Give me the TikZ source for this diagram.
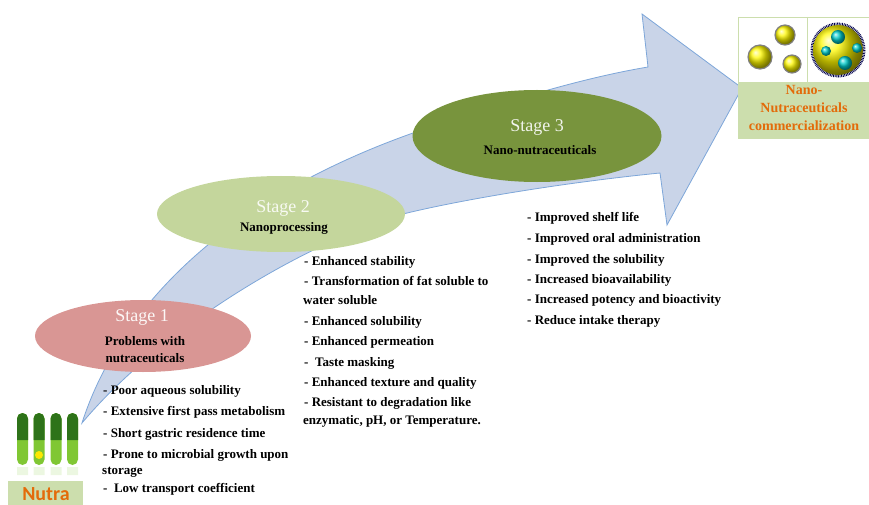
\documentclass[tikz,border=0pt]{standalone}
\usepackage{fontspec}
\setmainfont{Liberation Serif}
\newfontfamily\nutrafont{Carlito}
\usetikzlibrary{shapes.geometric}

\definecolor{cdddhh}{rgb}{0.79,0.83,0.91}
\definecolor{uuzzdd}{rgb}{0.49,0.65,0.85}
\definecolor{ddzzzz}{rgb}{0.85,0.59,0.58}
\definecolor{ccddzz}{rgb}{0.77,0.84,0.61}
\definecolor{uuzztt}{rgb}{0.47,0.58,0.24}
\definecolor{eeuuqq}{rgb}{0.89,0.42,0.04}
\definecolor{ddeecc}{rgb}{0.80,0.87,0.68}
\definecolor{ttuuqq}{rgb}{0.18,0.45,0.10}
\definecolor{zzccqq}{rgb}{0.50,0.78,0.20}

\tikzset{
  stage/.style={ellipse,draw=none,inner sep=0pt},
  stagetitle/.style={inner sep=0pt,font=\fontsize{18}{18}\selectfont},
  stagesub/.style={inner sep=0pt,align=center,font=\bfseries\fontsize{13}{17}\selectfont},
  item/.style={anchor=west,inner sep=0pt,text height=9pt,text depth=3pt,font=\bfseries\fontsize{13}{15}\selectfont}
}

\begin{document}
\begin{tikzpicture}[x=1pt,y=-1pt]
    \useasboundingbox (0,0) rectangle (869,505);
    % the bent arrow behind the stages
    \draw [line width=0.8pt,color=uuzzdd,fill=cdddhh] (82,423) .. controls (115,320) and (210,205) .. (413,133)
        .. controls (480,110) and (570,80) .. (648,67) -- (642,14) -- (742,88) -- (667,225) -- (660,173)
        .. controls (560,183) and (460,200) .. (403,214) .. controls (300,245) and (160,330) .. (82,423) -- cycle;
    % stages
    \node [stage,fill=ddzzzz,minimum width=216pt,minimum height=72pt] (st1) at (143,336) {};
    \node [stage,fill=ccddzz,minimum width=248pt,minimum height=76pt] (st2) at (281,214) {};
    \node [stage,fill=uuzztt,minimum width=249pt,minimum height=92pt] (st3) at (537,136) {};
    \node [stagetitle,text=white!92!ddzzzz] (st1t) at (142,317) {Stage 1};
    \node [stagesub] (st1s) at (145,350) {Problems with\\nutraceuticals};
    \node [stagetitle,text=white!88!ccddzz] (st2t) at (283,208) {Stage 2};
    \node [stagesub] (st2s) at (284,228) {Nanoprocessing};
    \node [stagetitle,text=white!90!uuzztt] (st3t) at (537,127) {Stage 3};
    \node [stagesub] (st3s) at (540,150) {Nano-nutraceuticals};
    % stage 1 list
    \node [item] (p1) at (103,391) {- Poor aqueous solubility};
    \node [item] (p2) at (103,412) {- Extensive first pass metabolism};
    \node [item] (p3) at (103,434) {- Short gastric residence time};
    \node [item] (p4) at (103,455) {- Prone to microbial growth upon};
    \node [item] (p4b) at (102,471) {storage};
    \node [item] (p5) at (103,489) {-\ \ Low transport coefficient};
    % stage 2 list
    \node [item] (n1) at (304,262) {- Enhanced stability};
    \node [item] (n2) at (304,282) {- Transformation of fat soluble to};
    \node [item] (n2b) at (303,301) {water soluble};
    \node [item] (n3) at (304,322) {- Enhanced solubility};
    \node [item] (n4) at (304,342) {- Enhanced permeation};
    \node [item] (n5) at (304,363) {-\ \ Taste masking};
    \node [item] (n6) at (304,383) {- Enhanced texture and quality};
    \node [item] (n7) at (304,403) {- Resistant to degradation like};
    \node [item] (n7b) at (303,421) {enzymatic, pH, or Temperature.};
    % stage 3 list
    \node [item] (b1) at (527,218) {- Improved shelf life};
    \node [item] (b2) at (527,239) {- Improved oral administration};
    \node [item] (b3) at (527,260) {- Improved the solubility};
    \node [item] (b4) at (527,280) {- Increased bioavailability};
    \node [item] (b5) at (527,300) {- Increased potency and bioactivity};
    \node [item] (b6) at (527,321) {- Reduce intake therapy};
    % product box
    \fill [ddeecc] (738,82) rectangle (869,138);
    \draw [line width=0.8pt,color=ddeecc] (738,17) rectangle (869,138);
    \draw [line width=0.8pt,color=ddeecc] (738,82) -- (869,82);
    \draw [line width=0.8pt,color=ddeecc] (807,17) -- (807,82);
    \shade [ball color=yellow!95!orange] (785,35) circle (10);
    \draw [line width=1.2pt,color=gray] (785,35) circle (10);
    \shade [ball color=yellow!95!orange] (760,57) circle (12);
    \draw [line width=1.2pt,color=gray] (760,57) circle (12);
    \shade [ball color=yellow!95!orange] (792,64) circle (9);
    \draw [line width=1.2pt,color=gray] (792,64) circle (9);
    \draw [line width=3pt,color=blue!30!black,dash pattern=on 0.8pt off 0.8pt] (838,50) circle (26);
    \shade [ball color=yellow!95!orange] (838,50) circle (25);
    \shade [ball color=cyan!60!teal] (838,37) circle (7);
    \shade [ball color=cyan!60!teal] (826,51) circle (5);
    \shade [ball color=cyan!60!teal] (857,48) circle (5);
    \shade [ball color=cyan!60!teal] (845,63) circle (7);
    \node [inner sep=0pt,align=center,text=eeuuqq,font=\bfseries\fontsize{14}{18}\selectfont] (com) at (804,108) {Nano-\\Nutraceuticals\\commercialization};
    % capsules
    \fill [zzccqq] (17,418.5) arc[start angle=180,end angle=360,radius=5.5] -- (28,459.5) arc[start angle=0,end angle=180,radius=5.5] -- cycle;
    \fill [ttuuqq] (17,440) -- (17,418.5) arc[start angle=180,end angle=360,radius=5.5] -- (28,440) -- cycle;
    \fill [zzccqq] (33.5,418.5) arc[start angle=180,end angle=360,radius=5.5] -- (44.5,459.5) arc[start angle=0,end angle=180,radius=5.5] -- cycle;
    \fill [ttuuqq] (33.5,440) -- (33.5,418.5) arc[start angle=180,end angle=360,radius=5.5] -- (44.5,440) -- cycle;
    \fill [zzccqq] (50.5,418.5) arc[start angle=180,end angle=360,radius=5.5] -- (61.5,459.5) arc[start angle=0,end angle=180,radius=5.5] -- cycle;
    \fill [ttuuqq] (50.5,440) -- (50.5,418.5) arc[start angle=180,end angle=360,radius=5.5] -- (61.5,440) -- cycle;
    \fill [zzccqq] (67,418.5) arc[start angle=180,end angle=360,radius=5.5] -- (78,459.5) arc[start angle=0,end angle=180,radius=5.5] -- cycle;
    \fill [ttuuqq] (67,440) -- (67,418.5) arc[start angle=180,end angle=360,radius=5.5] -- (78,440) -- cycle;
    \fill [yellow!90!orange] (39,455) circle (4);
    \fill [zzccqq,opacity=0.15] (17,467) rectangle (28,475) (33.5,467) rectangle (44.5,475) (50.5,467) rectangle (61.5,475) (67,467) rectangle (78,475);
    % label box
    \fill [ddeecc] (8,481) rectangle (83,505);
    \node [inner sep=0pt,text=eeuuqq,font=\nutrafont\bfseries\fontsize{20}{20}\selectfont] (nutra) at (46,494) {Nutra};
\end{tikzpicture}
\end{document}
